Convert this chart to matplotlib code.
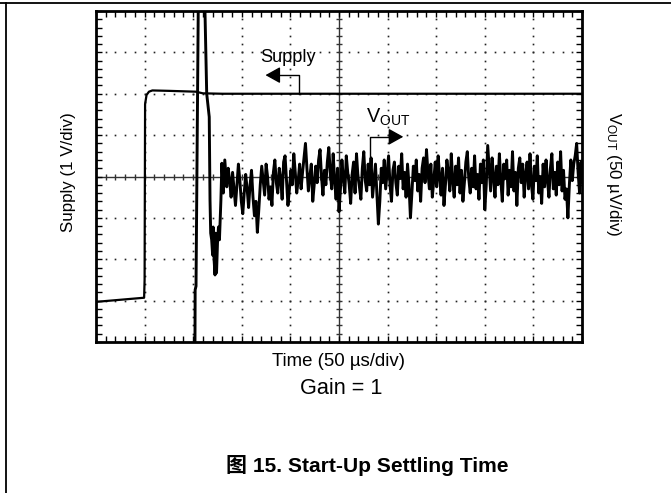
import numpy as np
import matplotlib
matplotlib.use('Agg')
import matplotlib.pyplot as plt
from matplotlib import font_manager
from matplotlib.lines import Line2D

# %%
# Fuente: Arial Narrow (Liberation Sans Narrow) si existe
try:
    font_manager.findfont('Liberation Sans Narrow', fallback_to_default=False)
    fuente = 'Liberation Sans Narrow'
    k = 1.0
except ValueError:
    fuente = 'Liberation Sans'
    k = 0.84

plt.rcParams['font.family'] = [fuente, 'Noto Sans CJK SC', 'DejaVu Sans']
plt.rcParams['mathtext.fontset'] = 'custom'
plt.rcParams['mathtext.rm'] = fuente

# %%
# Datos en divisiones de pantalla (x: 0..10, y: -4..4)
t_supply = [0.0, 0.99, 1.0, 1.01, 1.04, 1.09, 1.16, 1.5, 2.05, 2.2, 2.6, 10.0]
v_supply = [-3.03, -2.93, -2.5, 1.75, 1.97, 2.05, 2.08, 2.07, 2.05, 2.01, 2.0, 2.0]

# arranque de Vout (pico fuera de pantalla y caida)
t_vout_arranque = [2.035, 2.04, 2.058, 2.105, 2.13, 2.22, 2.243, 2.278, 2.33, 2.346, 2.36,
                   2.38, 2.40, 2.41, 2.43, 2.449, 2.46, 2.47, 2.48, 2.50, 2.52, 2.54,
                   2.57, 2.59, 2.62, 2.65, 2.69]
v_vout_arranque = [-4.5, -2.74, -2.65, 4.2, 4.6, 4.6, 3.95, 2.0, 1.44, -0.57, -1.37,
                   -1.53, -1.9, -1.22, -2.02, -2.38, -1.37, -1.8, -2.33, -1.6, -1.22, -1.53,
                   -0.57, 0.32, -0.4, 0.4, -0.25]

# ruido de Vout ya asentado (muestreo cada 0.03 div desde 2.72)
t_ruido_inicio = 2.72
t_ruido_paso = 0.03
v_ruido = [0.2, -0.1, -0.5, 0.1, -0.3, -0.7, -0.2, 0.3, -0.1, -0.6,
           -0.9, -0.4, 0.05, -0.3, -0.75, -0.2, 0.15, -0.5, -0.95, -0.6,
           -1.35, -0.8, -0.2, 0.25, -0.1, -0.45, 0.3, 0.0, -0.55, -0.25,
           -0.7, 0.1, 0.4, -0.15, -0.4, 0.2, -0.05, -0.55, 0.35, 0.5,
           -0.1, -0.7, -0.3, 0.15, -0.2, 0.55, 0.1, -0.4, -0.1, 0.3,
           -0.3, 0.1, 0.45, 0.8, 0.2, -0.35, 0.0, 0.3, -0.6, -0.2,
           0.25, -0.15, 0.4, 0.65, 0.0, -0.45, 0.15, -0.2, 0.35, 0.7,
           0.1, -0.3, 0.55, -0.1, -0.55, 0.2, -0.85, -0.3, 0.4, -0.05,
           -0.4, 0.5, 0.1, -0.2, -0.65, 0.05, 0.35, -0.4, 0.55, 0.0,
           -0.25, -0.55, 0.2, 0.6, -0.1, -0.35, 0.3, -0.2, 0.45, -0.5,
           -0.1, 0.3, -0.45, -1.15, -0.6, 0.2, -0.15, 0.4, -0.3, 0.1,
           0.5, -0.2, -0.6, 0.15, 0.35, -0.15, -0.45, 0.25, -0.05, 0.55,
           -0.3, 0.1, -0.5, 0.3, -0.2, -1.0, -0.4, 0.25, -0.1, 0.4,
           -0.35, 0.05, -0.6, 0.2, 0.45, -0.15, 0.65, 0.1, -0.3, 0.3,
           -0.5, -0.1, 0.35, -0.25, 0.5, 0.0, -0.45, 0.2, -0.7, -0.2,
           0.4, 0.1, -0.35, 0.55, -0.1, -0.5, 0.25, -0.2, 0.45, -0.4,
           0.15, -0.6, -0.15, 0.35, 0.6, -0.05, -0.4, 0.2, -0.25, 0.5,
           -0.3, 0.05, -0.55, 0.3, -0.15, 0.4, -0.8, -0.2, 0.75, 0.2,
           -0.35, 0.45, 0.0, -0.5, 0.25, -0.2, 0.55, -0.1, -0.6, 0.3,
           -0.05, 0.4, -0.45, 0.15, -0.25, 0.6, -0.35, 0.1, -0.7, 0.2,
           0.45, -0.15, 0.3, -0.5, 0.05, 0.35, -0.3, 0.55, -0.2, -0.55,
           0.25, -0.1, 0.5, -0.4, 0.0, -0.65, 0.3, -0.25, 0.4, -0.1,
           -0.5, 0.2, 0.55, -0.3, 0.1, -0.45, 0.35, -0.2, 0.6, -0.35,
           0.15, -0.55, -0.3, -1.0, -0.2, 0.4, -0.1, 0.3, 0.5, 0.8,
           0.1, -0.4, 0.35, -0.15, 0.55, -0.3, 0.2, -0.5, 0.4, 0.0]

# flechas de etiquetas: (x_vertical, y_base, y_codo, x_punta)
flecha_supply = (4.18, 2.0, 2.45, 3.43)
flecha_vout = (5.64, 0.0, 0.96, 6.38)

# %%
fig = plt.figure(figsize=(6.71, 4.93), dpi=100)
ax = fig.add_axes([96/671, 151/493, 486/671, 331/493])
ax.set_xlim(0, 10)
ax.set_ylim(-4, 4)

# rejilla punteada
paso = 0.2
for xg in [1, 2, 3, 4, 6, 7, 8, 9]:
    yy = np.arange(-4 + paso, 4, paso)
    ax.plot(np.full_like(yy, xg), yy, ls='none', marker='s', ms=1.2, mew=0, color='#222222', zorder=1)
for yg in [-3, -2, -1, 1, 2, 3]:
    xx = np.arange(paso, 10, paso)
    ax.plot(xx, np.full_like(xx, yg), ls='none', marker='s', ms=1.2, mew=0, color='#222222', zorder=1)

# ejes centrales con marcas
ax.axhline(0, color='#333333', lw=1.0, zorder=1)
ax.axvline(5, color='#333333', lw=1.0, zorder=1)
xx = np.arange(paso, 10, paso)
ax.plot(xx, np.zeros_like(xx), ls='none', marker='|', ms=5, mew=1.0, color='#333333', zorder=1)
yy = np.arange(-4 + paso, 4, paso)
ax.plot(np.full_like(yy, 5), yy, ls='none', marker='_', ms=5, mew=1.0, color='#333333', zorder=1)

# trazas
ax.plot(t_supply, v_supply, color='black', lw=1.6, zorder=3, solid_joinstyle='round')
t_ruido = t_ruido_inicio + t_ruido_paso * np.arange(len(v_ruido))
t_vout = np.concatenate([t_vout_arranque, t_ruido])
v_vout = np.concatenate([v_vout_arranque, v_ruido])
ax.plot(t_vout, v_vout, color='black', lw=2.1, zorder=3)

# etiquetas con flecha
xv, yb, yc, xp = flecha_supply
ax.plot([xv, xv, xp + 0.25], [yb, yc, yc], color='black', lw=1.0, zorder=4)
ax.annotate('', xy=(xp, yc), xytext=(xp + 0.3, yc),
            arrowprops=dict(arrowstyle='-|>,head_length=0.45,head_width=0.25',
                            color='black', lw=1.0, mutation_scale=20), zorder=4)
ax.text(3.95, 2.77, 'Supply', fontsize=15.5 * k, ha='center', va='baseline', zorder=4)

xv, yb, yc, xp = flecha_vout
ax.plot([xv, xv, xp - 0.25], [yb, yc, yc], color='black', lw=1.0, zorder=4)
ax.annotate('', xy=(xp, yc), xytext=(xp - 0.3, yc),
            arrowprops=dict(arrowstyle='-|>,head_length=0.45,head_width=0.25',
                            color='black', lw=1.0, mutation_scale=20), zorder=4)
ax.text(5.55, 1.29, r'$\mathregular{V_{OUT}}$', fontsize=17 * k, ha='left', va='baseline', zorder=4)

# marco y marcas del eje
for s in ax.spines.values():
    s.set_linewidth(2.0)
ax.set_xticks(np.arange(0, 11, 1))
ax.set_yticks(np.arange(-4, 5, 1))
ax.set_xticks(np.arange(0, 10.01, paso), minor=True)
ax.set_yticks(np.arange(-4, 4.01, paso), minor=True)
ax.tick_params(which='both', direction='in', length=4, width=1.0,
               top=True, right=True, labelbottom=False, labelleft=False)

# textos de la figura
fig.text(68/671, 1 - 172/493, 'Supply (1 V/div)', rotation=90, ha='center', va='center', fontsize=14.5 * k)
fig.text(613/671, 1 - 174/493, r'$\mathregular{V_{OUT}}$ (50 µV/div)', rotation=-90,
         ha='center', va='center', fontsize=14.5 * k)
fig.text(339/671, 1 - 362/493, 'Time (50 µs/div)', ha='center', va='center', fontsize=16 * k)
fig.text(341/671, 1 - 389/493, 'Gain = 1', ha='center', va='center', fontsize=18.5 * k)
fig.text(367/671, 1 - 466/493, '图 15. Start-Up Settling Time', ha='center', va='center',
         fontsize=18 * k, fontweight='bold')

# bordes de la celda del documento
fig.add_artist(Line2D([0, 1], [1 - 3/493, 1 - 3/493], color='black', lw=1.3))
fig.add_artist(Line2D([6/671, 6/671], [0, 1 - 3/493], color='black', lw=1.3))

plt.savefig('out.png', dpi=100)
